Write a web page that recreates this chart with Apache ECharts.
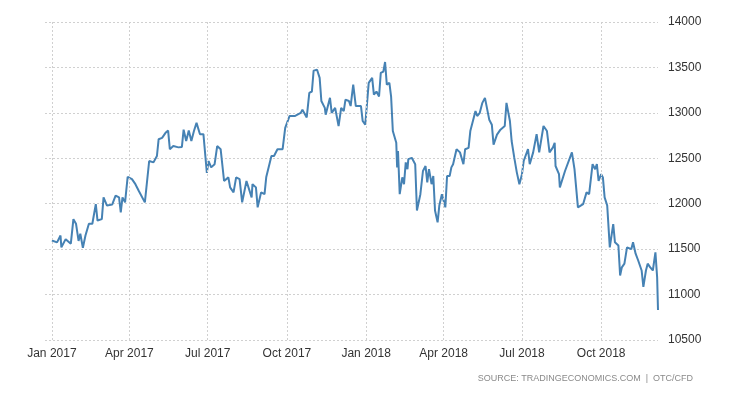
<!DOCTYPE html>
<html><head><meta charset="utf-8">
<script src="https://cdn.jsdelivr.net/npm/echarts@6/dist/echarts.min.js"></script>
<style>html,body{margin:0;padding:0;background:#fff}#c{width:730px;height:400px}</style>
</head><body><div id="c"></div>
<script>
// day offsets from 2017-01-01 and values
const days2017 = [0,6,10,11,16,22,25,28,31,33,36,39,43,47,51,53,58,60,64,70,74,78,80,82,85,88,93,97,101,108,113,118,122,124,128,132,135,137,141,147,151,153,156,159,162,165,168,172,176,180,182,185,189,192,196,200,205,207,211,214,218,221,226,232,233,237,239,243,247,249,255,258,262,268,271,276,282,289,291,296,299,302,304,308,311,313,317,318,323,325,329,333,336,339,341,345,347,350,353,359,361,364];
const vals2017 = [11595,11575,11650,11520,11610,11560,11830,11780,11590,11670,11515,11650,11780,11780,11995,11815,11830,12070,11980,11990,12090,12070,11905,12070,12015,12295,12270,12215,12140,12015,12470,12455,12525,12710,12725,12780,12805,12600,12635,12620,12625,12815,12690,12805,12690,12800,12890,12765,12765,12340,12470,12400,12435,12635,12600,12250,12290,12180,12125,12290,12270,12015,12250,12070,12215,12180,11960,12125,12105,12295,12525,12525,12600,12600,12835,12965,12965,13000,13035,12950,13220,13235,13465,13475,13385,13130,13055,12980,13165,13000,13055,12855,13055,13020,13145,13130,13075,13310,13075,13075,12910,12870];
// day offsets from 2018-01-01 and values
const days2018 = [3,7,9,12,15,17,20,22,24,27,29,31,35,36,37,39,42,44,46,48,49,53,55,57,59,63,66,69,71,73,76,78,80,83,85,88,92,94,97,99,101,105,109,113,115,119,121,125,127,129,132,135,138,140,143,146,148,152,156,158,161,163,167,169,172,175,178,181,183,188,190,194,198,201,206,210,213,217,219,220,224,225,231,233,239,242,246,252,256,259,263,266,268,270,273,275,277,280,283,287,289,293,295,297,300,303,308,310,313,316,320,322,325,327,330,333,336,338,339];
const vals2018 = [13330,13385,13200,13235,13180,13440,13455,13560,13310,13330,13180,12800,12670,12400,12580,12105,12290,12215,12455,12380,12490,12505,12525,12435,11925,12105,12360,12415,12235,12380,12215,12305,11925,11795,11980,12105,11960,12305,12305,12400,12435,12600,12565,12435,12600,12615,12800,12945,13020,12965,13000,13110,13165,13165,12925,12870,12650,12760,12815,12800,12855,13110,12910,12690,12510,12345,12215,12325,12470,12600,12435,12565,12765,12565,12855,12800,12565,12620,12670,12415,12325,12180,12360,12380,12565,12380,11960,11995,12125,12105,12435,12380,12435,12250,12325,12290,12070,11980,11520,11775,11575,11540,11210,11300,11340,11520,11500,11575,11450,11375,11265,11085,11265,11340,11300,11265,11465,11190,10830];
const quarterDates = ['2017-01-01','2017-04-01','2017-07-01','2017-10-01','2018-01-01','2018-04-01','2018-07-01','2018-10-01'];
const quarterLabels = ['Jan 2017','Apr 2017','Jul 2017','Oct 2017','Jan 2018','Apr 2018','Jul 2018','Oct 2018'];

const DAY = 86400000;
const b17 = Date.UTC(2017,0,1), b18 = Date.UTC(2018,0,1);
const data = days2017.map((d,i)=>[b17+d*DAY, vals2017[i]]).concat(days2018.map((d,i)=>[b18+d*DAY, vals2018[i]]));
const qData = quarterDates.map((d,i)=>({xAxis: Date.parse(d+'T00:00:00Z'), label:{formatter: quarterLabels[i]}}));

const chart = echarts.init(document.getElementById('c'));
chart.setOption({
  animation:false,
  grid:{left:45,right:72,top:22,bottom:60},
  title:{text:'SOURCE: TRADINGECONOMICS.COM  |  OTC/CFD',right:32,bottom:12,
    textStyle:{fontSize:9,fontWeight:'normal',color:'#8a8a8a',fontFamily:'Arial, Liberation Sans, sans-serif'}},
  xAxis:{type:'time',min:b17-8*DAY,max:b18+339*DAY,
    axisLine:{show:false},axisTick:{show:false},axisLabel:{show:false},splitLine:{show:false}},
  yAxis:{type:'value',position:'right',min:10500,max:14000,interval:500,
    axisLine:{show:false},axisTick:{show:false},
    axisLabel:{color:'#333',fontSize:12,margin:10,formatter:v=>String(v),fontFamily:'Arial, Liberation Sans, sans-serif'},
    splitLine:{lineStyle:{color:'#d0d0d0',type:[2,2]}}},
  series:[{type:'line',data:data,showSymbol:false,
    lineStyle:{color:'#4682b4',width:2},itemStyle:{color:'#4682b4'},
    markLine:{silent:true,symbol:'none',
      lineStyle:{color:'#d0d0d0',type:[2,2],width:1},
      label:{position:'start',distance:8,color:'#333',fontSize:12,fontFamily:'Arial, Liberation Sans, sans-serif'},
      data:qData}}]
});
</script></body></html>
